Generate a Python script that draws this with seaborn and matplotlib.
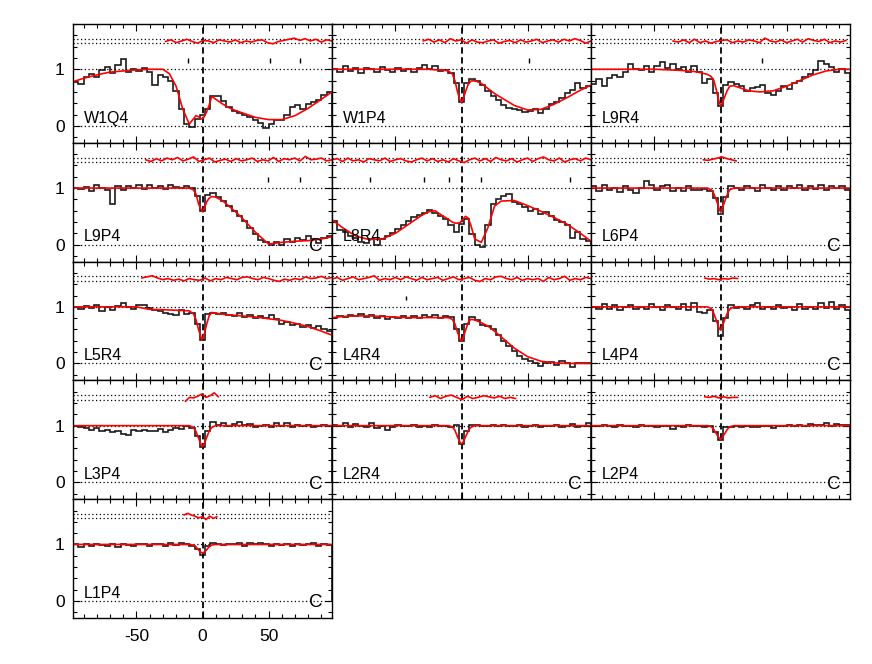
import numpy as np
import matplotlib
matplotlib.use("Agg")
import matplotlib.pyplot as plt
from matplotlib.ticker import MultipleLocator, FixedLocator, NullFormatter
import seaborn as sns

sns.set_style("ticks", {"axes.edgecolor": "black", "xtick.color": "black",
                        "ytick.color": "black", "text.color": "black"})
plt.rcParams['font.family'] = ['Liberation Sans', 'DejaVu Sans']
plt.rcParams['axes.unicode_minus'] = False

# x grid of the fitted model curves (velocity)
model_x = [-98, -90, -80, -70, -60, -50, -40, -30, -25, -20, -15, -10, -7, -5, -3, -1, 0,
           1, 3, 5, 7, 10, 15, 20, 25, 30, 40, 50, 60, 70, 80, 90, 98]

# ---- W1Q4
w1q4_flux = [0.78, 0.74, 0.86, 0.92, 0.87, 0.98, 1.04,
             0.94, 1.08, 1.18, 0.96, 1.0, 0.97, 1.02,
             0.96, 0.72, 0.9, 0.86, 0.8, 0.62, 0.3,
             0.04, -0.02, 0.12, 0.2, 0.3, 0.53, 0.52,
             0.44, 0.33, 0.26, 0.22, 0.2, 0.15, 0.1,
             0.05, -0.04, 0.04, 0.1, 0.1, 0.2, 0.33,
             0.36, 0.3, 0.38, 0.42, 0.46, 0.55, 0.6]
w1q4_model = [0.78, 0.84, 0.9, 0.95, 0.97, 0.99, 1.0, 1.0, 0.92, 0.7, 0.3, 0.03, 0.12, 0.18,
              0.16, 0.12, 0.13, 0.15, 0.24, 0.36, 0.52, 0.47, 0.39, 0.32, 0.27, 0.23, 0.15,
              0.11, 0.11, 0.18, 0.31, 0.47, 0.6]
w1q4_res = [1.49, 1.52, 1.47, 1.50, 1.53, 1.49, 1.46, 1.51, 1.50, 1.47, 1.52, 1.50, 1.48,
            1.52, 1.47, 1.50, 1.48, 1.51, 1.52, 1.47, 1.45, 1.49, 1.51, 1.53, 1.55, 1.51,
            1.54, 1.50, 1.53, 1.48, 1.52, 1.50]
w1q4_marks = [-10.6, 51, 74]

# ---- W1P4
w1p4_flux = [1.0, 0.95, 1.05, 0.97, 1.02, 0.94, 1.03,
             1.0, 0.96, 1.04, 0.98, 0.95, 1.02, 0.97,
             1.0, 0.96, 1.03, 1.08, 1.0, 1.05, 0.97,
             0.98, 0.94, 0.75, 0.42, 0.76, 0.82, 0.8,
             0.72, 0.62, 0.52, 0.45, 0.36, 0.31, 0.3,
             0.28, 0.24, 0.27, 0.3, 0.22, 0.3, 0.38,
             0.42, 0.5, 0.58, 0.64, 0.76, 0.66, 0.7]
w1p4_model = [1.0, 1.0, 1.0, 1.0, 1.0, 1.0, 1.0, 1.0, 1.0, 0.99, 0.99, 0.97, 0.92, 0.8,
              0.6, 0.45, 0.41, 0.46, 0.6, 0.73, 0.79, 0.8, 0.75, 0.66, 0.57, 0.5, 0.36,
              0.28, 0.29, 0.38, 0.5, 0.63, 0.72]
w1p4_res = [1.50, 1.53, 1.48, 1.52, 1.47, 1.54, 1.50, 1.52, 1.46, 1.52, 1.48, 1.47, 1.50,
            1.52, 1.46, 1.49, 1.51, 1.47, 1.52, 1.48, 1.50, 1.53, 1.47, 1.50, 1.52, 1.48,
            1.53, 1.50, 1.54, 1.51, 1.46, 1.50]
w1p4_marks = [51]

# ---- L9R4
l9r4_flux = [0.74, 0.82, 0.7, 0.84, 0.9, 0.86, 0.96,
             1.1, 1.0, 0.98, 1.06, 0.96, 1.05, 1.12,
             1.02, 1.1, 1.0, 1.04, 0.95, 1.05, 0.95,
             0.76, 0.82, 0.58, 0.35, 0.72, 0.77, 0.74,
             0.7, 0.62, 0.66, 0.68, 0.72, 0.58, 0.55,
             0.62, 0.7, 0.65, 0.76, 0.8, 0.86, 0.92,
             0.98, 1.15, 1.1, 1.04, 0.95, 1.0, 0.94]
l9r4_model = [1.0, 1.0, 1.0, 1.0, 1.0, 1.0, 0.99, 0.98, 0.97, 0.96, 0.94, 0.91, 0.87, 0.8,
              0.62, 0.42, 0.36, 0.38, 0.5, 0.62, 0.7, 0.71, 0.67, 0.63, 0.61, 0.6, 0.62,
              0.7, 0.8, 0.9, 0.97, 1.0, 1.0]
l9r4_res = [1.50, 1.48, 1.52, 1.47, 1.53, 1.47, 1.50, 1.46, 1.49, 1.51, 1.52, 1.47, 1.50,
            1.48, 1.52, 1.50, 1.47, 1.55, 1.50, 1.48, 1.52, 1.47, 1.50, 1.53, 1.48, 1.54,
            1.51, 1.49, 1.53, 1.47, 1.50, 1.48, 1.51]
l9r4_marks = [31.5]

# ---- L9P4
l9p4_flux = [1.0, 0.98, 1.02, 0.95, 1.05, 1.0, 0.97,
             0.72, 1.03, 0.96, 1.04, 1.0, 1.05, 0.98,
             1.06, 1.0, 1.04, 0.98, 1.05, 1.02, 1.0,
             1.03, 1.0, 0.86, 0.6, 0.88, 0.92, 0.85,
             0.78, 0.68, 0.6, 0.5, 0.42, 0.3, 0.18,
             0.08, 0.04, 0.0, 0.05, 0.0, 0.1, 0.04,
             0.12, 0.08, 0.15, 0.1, 0.03, 0.12, 0.15]
l9p4_model = [1.0, 1.0, 1.0, 1.0, 1.0, 1.0, 1.0, 1.0, 1.0, 1.0, 1.0, 1.0, 0.97, 0.9,
              0.72, 0.62, 0.59, 0.62, 0.75, 0.82, 0.85, 0.84, 0.78, 0.68, 0.58, 0.47, 0.22,
              0.01, 0.04, 0.06, 0.07, 0.1, 0.14]
l9p4_res = [1.50, 1.47, 1.52, 1.48, 1.53, 1.50, 1.54, 1.48, 1.51, 1.55, 1.47, 1.50, 1.53,
            1.46, 1.49, 1.51, 1.47, 1.52, 1.48, 1.50, 1.53, 1.47, 1.50, 1.48, 1.54, 1.47,
            1.52, 1.50, 1.53, 1.48, 1.56, 1.50, 1.51, 1.53, 1.48, 1.50]
l9p4_marks = [49.3, 73.5]

# ---- L8R4
l8r4_flux = [0.42, 0.26, 0.22, 0.15, 0.12, 0.05, 0.03,
             0.1, 0.0, 0.1, 0.15, 0.2, 0.28, 0.35,
             0.42, 0.48, 0.52, 0.56, 0.62, 0.56, 0.5,
             0.45, 0.35, 0.22, 0.36, 0.45, 0.18, 0.0,
             -0.04, 0.35, 0.72, 0.8, 0.86, 0.9, 0.76,
             0.72, 0.66, 0.6, 0.63, 0.55, 0.58, 0.5,
             0.43, 0.4, 0.35, 0.12, 0.22, 0.1, 0.07]
l8r4_model = [0.44, 0.3, 0.15, 0.09, 0.1, 0.2, 0.36, 0.52, 0.58, 0.6, 0.52, 0.45, 0.4, 0.38,
              0.38, 0.39, 0.42, 0.45, 0.5, 0.47, 0.35, 0.1, 0.04, 0.3, 0.68, 0.77, 0.78,
              0.69, 0.59, 0.48, 0.36, 0.2, 0.06]
l8r4_res = [1.50, 1.52, 1.47, 1.53, 1.48, 1.50, 1.46, 1.52, 1.50, 1.48, 1.53, 1.47, 1.50,
            1.52, 1.48, 1.46, 1.50, 1.53, 1.48, 1.52, 1.47, 1.50, 1.46, 1.52, 1.48, 1.45,
            1.50, 1.53, 1.48, 1.52, 1.47, 1.54, 1.50, 1.48, 1.52, 1.46, 1.50, 1.53, 1.47,
            1.52, 1.55, 1.50, 1.48, 1.53, 1.46, 1.50, 1.52, 1.48, 1.53, 1.50]
l8r4_marks = [-69, -28.3, -9.1, 14.9, 82]

# ---- L6P4
l6p4_flux = [1.03, 0.95, 1.06, 0.97, 1.0, 0.93, 1.04,
             0.96, 0.91, 1.0, 1.13, 1.06, 0.96, 1.03,
             1.06, 0.95, 1.0, 0.94, 1.03, 0.97, 0.97,
             0.99, 0.95, 0.82, 0.55, 0.85, 1.03, 1.0,
             0.96, 1.04, 1.0, 0.95, 1.05, 1.0, 0.97,
             1.04, 0.96, 1.03, 1.0, 1.05, 0.97, 1.03,
             0.98, 1.05, 0.97, 1.04, 1.0, 1.03, 0.96]
l6p4_model = [1.0, 1.0, 1.0, 1.0, 1.0, 1.0, 1.0, 1.0, 1.0, 1.0, 1.0, 1.0, 0.97, 0.9,
              0.78, 0.63, 0.58, 0.62, 0.75, 0.88, 0.97, 1.0, 1.0, 1.0, 1.0, 1.0, 1.0,
              1.0, 1.0, 1.0, 1.0, 1.0, 1.0]
l6p4_res = [1.50, 1.49, 1.51, 1.53, 1.55, 1.52, 1.50, 1.48]

# ---- L5R4
l5r4_flux = [1.0, 0.96, 1.02, 0.98, 1.04, 0.92, 1.0,
             0.95, 1.02, 1.06, 1.0, 0.97, 1.04, 1.03,
             0.98, 0.94, 0.92, 0.9, 0.88, 0.86, 0.95,
             0.88, 0.9, 0.7, 0.42, 0.88, 0.9, 0.87,
             0.89, 0.86, 0.84, 0.9, 0.82, 0.86, 0.8,
             0.84, 0.8, 0.85, 0.78, 0.7, 0.74, 0.68,
             0.7, 0.65, 0.68, 0.62, 0.66, 0.6, 0.58]
l5r4_model = [1.0, 1.0, 1.0, 1.0, 1.0, 1.0, 0.955, 0.95, 0.945, 0.94, 0.935, 0.93, 0.88,
              0.78, 0.6, 0.46, 0.42, 0.48, 0.68, 0.84, 0.9, 0.89, 0.87, 0.86, 0.85, 0.84,
              0.82, 0.79, 0.76, 0.71, 0.65, 0.57, 0.5]
l5r4_res = [1.51, 1.53, 1.55, 1.51, 1.48, 1.50, 1.47, 1.49, 1.46, 1.50, 1.48, 1.47, 1.51,
            1.46, 1.50, 1.48, 1.52, 1.50, 1.48, 1.52, 1.53, 1.50, 1.48, 1.52, 1.50, 1.47,
            1.45, 1.49, 1.47, 1.50, 1.48, 1.53, 1.50, 1.51, 1.54, 1.50, 1.52]

# ---- L4R4
l4r4_flux = [0.8, 0.84, 0.82, 0.86, 0.83, 0.88, 0.82,
             0.86, 0.8, 0.84, 0.78, 0.82, 0.8, 0.84,
             0.8, 0.83, 0.8, 0.85, 0.82, 0.86, 0.8,
             0.84, 0.82, 0.6, 0.4, 0.7, 0.82, 0.76,
             0.68, 0.66, 0.6, 0.5, 0.4, 0.3, 0.22,
             0.13, 0.08, 0.05, 0.0, -0.05, 0.0, 0.03,
             -0.03, 0.05, 0.0, -0.06, 0.01, 0.0, 0.01]
l4r4_model = [0.81, 0.83, 0.84, 0.84, 0.83, 0.82, 0.81, 0.81, 0.81, 0.81, 0.81, 0.81, 0.78,
              0.7, 0.55, 0.42, 0.39, 0.43, 0.58, 0.72, 0.78, 0.77, 0.72, 0.66, 0.57, 0.47,
              0.27, 0.12, 0.04, 0.01, 0.0, 0.0, 0.0]
l4r4_res = [1.49, 1.52, 1.47, 1.50, 1.53, 1.48, 1.50, 1.52, 1.55, 1.47, 1.50, 1.48, 1.52,
            1.48, 1.53, 1.50, 1.47, 1.52, 1.48, 1.50, 1.52, 1.47, 1.50, 1.53, 1.48, 1.50,
            1.52, 1.47, 1.45, 1.50, 1.48, 1.53, 1.54, 1.50, 1.48, 1.52, 1.47, 1.50, 1.48,
            1.50, 1.45, 1.52, 1.48, 1.50, 1.54, 1.47, 1.50, 1.48, 1.52, 1.50]
l4r4_marks = [-41.9]

# ---- L4P4
l4p4_flux = [1.0, 0.96, 1.05, 0.97, 1.03, 0.95, 1.0,
             1.04, 0.97, 1.0, 0.96, 1.05, 1.0, 0.95,
             1.03, 0.99, 0.96, 1.05, 0.94, 1.07, 0.91,
             0.9, 0.95, 0.75, 0.48, 0.8, 1.04, 0.98,
             1.0, 0.96, 1.04, 1.06, 0.97, 1.0, 0.96,
             1.04, 0.98, 1.0, 0.95, 1.05, 0.97, 1.0,
             0.96, 1.06, 0.98, 1.09, 0.96, 1.03, 0.94]
l4p4_model = [1.0, 1.0, 1.0, 1.0, 1.0, 1.0, 1.0, 1.0, 1.0, 1.0, 1.0, 1.0, 0.97, 0.88,
              0.75, 0.62, 0.59, 0.63, 0.76, 0.88, 0.96, 1.0, 1.0, 1.0, 1.0, 1.0, 1.0,
              1.0, 1.0, 1.0, 1.0, 1.0, 1.0]
l4p4_res = [1.51, 1.49, 1.50, 1.48, 1.50, 1.49, 1.51, 1.50]

# ---- L3P4
l3p4_flux = [1.0, 0.98, 0.95, 0.93, 0.96, 0.9, 0.92,
             0.88, 0.9, 0.86, 0.84, 0.92, 0.9, 0.93,
             0.91, 0.9, 0.94, 0.88, 0.93, 0.95, 0.94,
             1.0, 0.95, 0.82, 0.62, 0.9, 1.06, 1.02,
             1.04, 1.0, 1.03, 1.06, 1.01, 1.03, 0.98,
             1.0, 1.02, 0.98, 1.04, 1.0, 1.05, 0.98,
             1.01, 0.99, 1.02, 0.98, 1.0, 1.02, 0.99]
l3p4_model = [1.0, 1.0, 1.0, 1.0, 1.0, 1.0, 1.0, 1.0, 1.0, 1.0, 1.0, 1.0, 0.97, 0.9,
              0.78, 0.66, 0.63, 0.66, 0.78, 0.9, 0.97, 1.0, 1.0, 1.0, 1.0, 1.0, 1.0,
              1.0, 1.0, 1.0, 1.0, 1.0, 1.0]
l3p4_res = [1.43, 1.50, 1.49, 1.52, 1.56, 1.50, 1.53, 1.58, 1.51]

# ---- L2R4
l2r4_flux = [1.02, 1.0, 1.04, 0.98, 1.03, 1.0, 0.97,
             1.05, 0.96, 1.0, 0.93, 0.98, 1.02, 1.0,
             0.99, 1.02, 0.98, 1.0, 0.97, 1.01, 0.99,
             1.0, 0.98, 1.02, 0.67, 0.9, 1.02, 1.01,
             1.0, 0.99, 1.01, 1.0, 1.02, 0.99, 1.0,
             1.01, 0.98, 1.0, 1.02, 0.97, 1.0, 0.99,
             1.01, 0.97, 1.0, 1.03, 0.98, 1.0, 1.04]
l2r4_model = [1.0, 1.0, 1.0, 1.0, 1.0, 1.0, 1.0, 1.0, 1.0, 1.0, 1.0, 1.0, 0.98, 0.92,
              0.8, 0.7, 0.68, 0.7, 0.8, 0.9, 0.97, 1.0, 1.0, 1.0, 1.0, 1.0, 1.0,
              1.0, 1.0, 1.0, 1.0, 1.0, 1.0]
l2r4_res = [1.50, 1.53, 1.48, 1.52, 1.54, 1.50, 1.46, 1.52, 1.48, 1.50, 1.53, 1.51, 1.49,
            1.52, 1.48, 1.50, 1.48]

# ---- L2P4
l2p4_flux = [1.0, 0.99, 1.01, 1.0, 0.98, 1.01, 0.99,
             1.0, 0.98, 1.01, 0.99, 1.0, 0.97, 1.0,
             0.99, 0.94, 1.0, 0.98, 1.01, 0.99, 1.0,
             0.97, 1.0, 0.88, 0.75, 0.97, 0.98, 0.99,
             0.97, 1.0, 0.98, 0.97, 0.99, 1.0, 0.96,
             0.99, 1.0, 1.01, 0.99, 1.02, 1.0, 1.03,
             1.01, 1.02, 1.04, 1.0, 1.03, 1.02, 1.01]
l2p4_model = [1.0, 1.0, 1.0, 1.0, 1.0, 1.0, 1.0, 1.0, 1.0, 1.0, 1.0, 1.0, 0.98, 0.93,
              0.85, 0.78, 0.76, 0.78, 0.85, 0.93, 0.98, 1.0, 1.0, 1.0, 1.0, 1.0, 1.0,
              1.0, 1.0, 1.0, 1.0, 1.0, 1.0]
l2p4_res = [1.51, 1.50, 1.52, 1.49, 1.51, 1.49, 1.50, 1.50]

# ---- L1P4
l1p4_flux = [1.0, 0.96, 1.01, 0.98, 1.0, 0.99, 0.97,
             1.0, 0.96, 1.01, 0.99, 0.98, 1.01, 1.0,
             0.98, 1.01, 1.0, 0.97, 1.02, 0.99, 1.03,
             1.0, 0.97, 0.92, 0.82, 0.97, 1.02, 1.0,
             0.99, 1.01, 1.0, 1.03, 0.98, 1.02, 1.0,
             1.03, 1.0, 0.98, 1.01, 0.99, 1.0, 0.98,
             1.01, 0.99, 1.0, 1.02, 0.98, 1.0, 0.99]
l1p4_model = [1.0, 1.0, 1.0, 1.0, 1.0, 1.0, 1.0, 1.0, 1.0, 1.0, 1.0, 1.0, 0.99, 0.96,
              0.9, 0.86, 0.85, 0.86, 0.9, 0.96, 0.99, 1.0, 1.0, 1.0, 1.0, 1.0, 1.0,
              1.0, 1.0, 1.0, 1.0, 1.0, 1.0]
l1p4_res = [1.52, 1.55, 1.52, 1.50, 1.47, 1.49, 1.44, 1.50, 1.46, 1.49]

# name, row, col, flux, model, residual range, residuals, marks, "C" flag
panels = [
    ("W1Q4", 0, 0, w1q4_flux, w1q4_model, (-28, 98), w1q4_res, w1q4_marks, False),
    ("W1P4", 0, 1, w1p4_flux, w1p4_model, (-29, 98), w1p4_res, w1p4_marks, False),
    ("L9R4", 0, 2, l9r4_flux, l9r4_model, (-36, 95), l9r4_res, l9r4_marks, False),
    ("L9P4", 1, 0, l9p4_flux, l9p4_model, (-43, 98), l9p4_res, l9p4_marks, True),
    ("L8R4", 1, 1, l8r4_flux, l8r4_model, (-98, 98), l8r4_res, l8r4_marks, False),
    ("L6P4", 1, 2, l6p4_flux, l6p4_model, (-13, 12), l6p4_res, [], True),
    ("L5R4", 2, 0, l5r4_flux, l5r4_model, (-46, 98), l5r4_res, [], True),
    ("L4R4", 2, 1, l4r4_flux, l4r4_model, (-98, 98), l4r4_res, l4r4_marks, False),
    ("L4P4", 2, 2, l4p4_flux, l4p4_model, (-12, 13), l4p4_res, [], True),
    ("L3P4", 3, 0, l3p4_flux, l3p4_model, (-13, 12), l3p4_res, [], True),
    ("L2R4", 3, 1, l2r4_flux, l2r4_model, (-24, 41), l2r4_res, [], True),
    ("L2P4", 3, 2, l2p4_flux, l2p4_model, (-12, 13), l2p4_res, [], True),
    ("L1P4", 4, 0, l1p4_flux, l1p4_model, (-14, 11), l1p4_res, [], True),
]

W, H = 872, 664
left_px, top_px, pw, ph = 73, 24, 259, 118.8

fig = plt.figure(figsize=(W / 100, H / 100), dpi=100)

for name, row, col, flux, model, rng, res, marks, cflag in panels:
    ax = fig.add_axes([(left_px + pw * col) / W, 1 - (top_px + ph * (row + 1)) / H,
                       pw / W, ph / H])
    for yy in (0, 1, 1.46, 1.54):
        ax.axhline(yy, color='black', ls=(0, (1, 2)), lw=0.9)
    ax.axvline(0, color='black', ls=(0, (3.5, 2)), lw=1.3)

    ax.stairs(flux, np.linspace(-98, 98, len(flux) + 1), color='#1a1a1a', lw=1.2)
    sns.lineplot(x=model_x, y=model, color='red', lw=1.2, ax=ax, legend=False)
    rx = np.linspace(rng[0], rng[1], len(res))
    sns.lineplot(x=rx, y=res, color='red', lw=1.2, ax=ax, legend=False)
    if marks:
        ax.vlines(marks, 1.115, 1.195, color='black', lw=1)

    ax.text(0.042, 0.17, name, transform=ax.transAxes, fontsize=11.5)
    if cflag:
        ax.text(0.962, 0.055, "C", transform=ax.transAxes, fontsize=13.5,
                ha='right', va='bottom')

    ax.set_xlim(-98, 98)
    ax.set_ylim(-0.3, 1.8)
    ax.xaxis.set_major_locator(FixedLocator([-50, 0, 50]))
    ax.xaxis.set_minor_locator(MultipleLocator(10))
    ax.yaxis.set_major_locator(FixedLocator([0, 1]))
    ax.yaxis.set_minor_locator(MultipleLocator(0.2))
    ax.tick_params(which='both', direction='in', top=True, right=True,
                   color='black', width=0.8, labelsize=12.5)
    ax.tick_params(which='major', length=5)
    ax.tick_params(which='minor', length=3)
    ax.tick_params(axis='x', pad=8)
    ax.tick_params(axis='y', pad=6)
    if col != 0:
        ax.yaxis.set_major_formatter(NullFormatter())
    if row != 4:
        ax.xaxis.set_major_formatter(NullFormatter())
    ax.set_xlabel("")
    ax.set_ylabel("")
    for s in ax.spines.values():
        s.set_color('black')
        s.set_linewidth(1)

fig.savefig("out.png", dpi=100)
